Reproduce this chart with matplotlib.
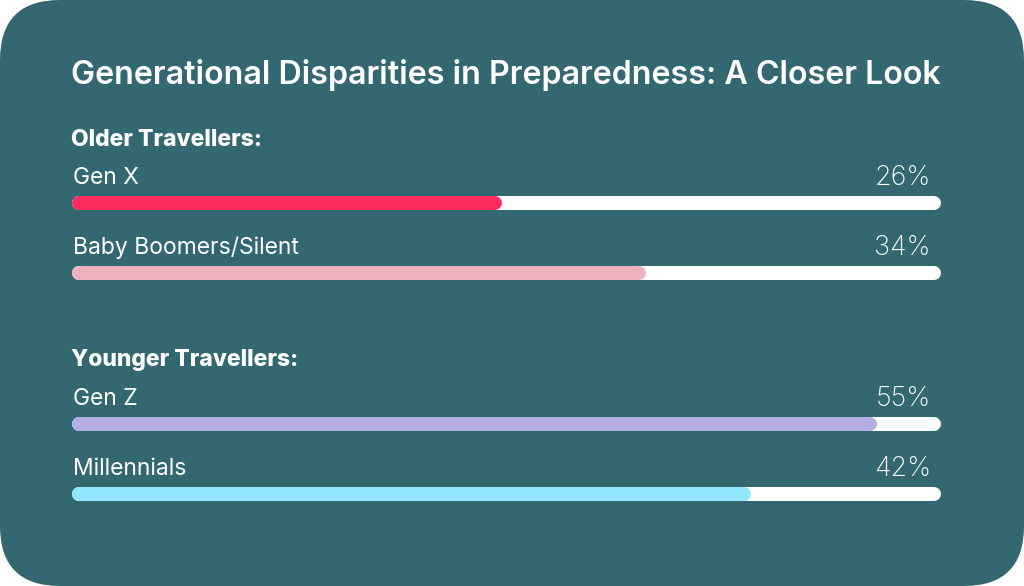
import matplotlib.pyplot as plt
from matplotlib.patches import FancyBboxPatch

# data
title = "Generational Disparities in Preparedness: A Closer Look"
groups = ["Older Travellers:", "Younger Travellers:"]
labels = ["Gen X", "Baby Boomers/Silent", "Gen Z", "Millennials"]
pct_labels = [26, 34, 55, 42]
bar_fill = [48.7, 65.5, 92.5, 77.8]   # share of the track that is filled, as drawn
colors = ["#ff2d5f", "#f0b1bf", "#b3aee2", "#92e6fc"]

plt.rcParams['font.family'] = ['Inter', 'DejaVu Sans']

W, H = 1024, 586
fig = plt.figure(figsize=(W / 100, H / 100), dpi=100)
fig.patch.set_facecolor('white')

# background card, pixel coordinates
bg = fig.add_axes([0, 0, 1, 1])
bg.set_xlim(0, W)
bg.set_ylim(H, 0)
bg.axis('off')
card = FancyBboxPatch((60, 60), W - 120, H - 120,
                      boxstyle="round,pad=60,rounding_size=60",
                      fc="#336870", ec="none")
bg.add_patch(card)

bg.text(71, 75, title, color='white', fontsize=23.2, fontweight='semibold',
        va='center', ha='left')

group_y = [140, 360]
row_y = [203, 273, 424, 494]
for g, y in zip(groups, group_y):
    bg.text(71, y, g, color='white', fontsize=16.5, fontweight='heavy',
            va='center', ha='left')
for lab, p, y in zip(labels, pct_labels, row_y):
    bg.text(73, y - 25, lab, color='white', fontsize=16.5, fontweight='normal',
            va='center', ha='left')
    bg.text(931, y - 25, f"{p}%", color='white', fontsize=19.4, fontweight='light',
            va='center', ha='right')

# bars, x in percent of track (round caps add 7 px each end)
ax = fig.add_axes([79 / W, 0, (934 - 79) / W, 1])
ax.set_xlim(0, 100)
ax.set_ylim(H, 0)
ax.axis('off')
lw = 14 * 72 / 100
for f, y, c in zip(bar_fill, row_y, colors):
    ax.plot([0, 100], [y, y], color='white', lw=lw, solid_capstyle='round', clip_on=False)
    ax.plot([0, f], [y, y], color=c, lw=lw, solid_capstyle='round', clip_on=False)

fig.savefig('out.png', dpi=100, facecolor='white')
